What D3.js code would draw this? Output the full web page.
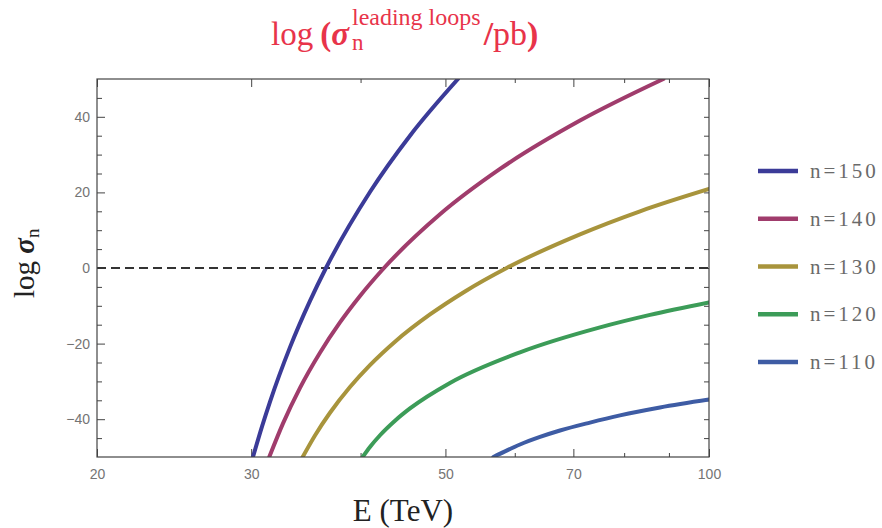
<!DOCTYPE html>
<html>
<head>
<meta charset="utf-8">
<script src="https://cdn.jsdelivr.net/npm/d3@7"></script>
<style>
  html, body { margin: 0; padding: 0; background: #fff; }
  svg { display: block; }
  .tick text { font-family: "Liberation Sans", Arial, sans-serif; font-size: 14px; fill: #747474; }
  .tick line { stroke: #444; stroke-width: 1; }
</style>
</head>
<body>
<svg id="chart" width="882" height="528"></svg>
<script>
// Energy (TeV) and log cross-section readings for each loop order n
const seriesNames = ["n=150", "n=140", "n=130", "n=120", "n=110"];
const seriesColors = ["#3b3b98", "#a03c6c", "#a8943c", "#3c9c58", "#3e5ca4"];

const energy150 = [30.14, 30.87, 31.52, 33.22, 35.02, 36.52, 41.00, 45.55, 51.68];
const logSigma150 = [-50, -41.9, -35.4, -21.0, -8.7, 0, 20.1, 35.0, 50];

const energy140 = [31.46, 32.62, 34.11, 35.95, 37.89, 39.94, 42.54, 49.29, 57.72, 71.23, 88.7];
const logSigma140 = [-50, -41.1, -31.7, -22.4, -14.4, -7.4, 0, 14.2, 26.2, 39.0, 50];

const energy130 = [34.35, 35.48, 36.91, 38.90, 41.00, 43.79, 48.01, 52.64, 58.74, 71.23, 83.41, 100];
const logSigma130 = [-50, -44.3, -38.3, -31.5, -25.7, -19.5, -12.3, -6.2, 0, 8.9, 15.0, 20.9];

const energy120 = [40.22, 41.00, 42.10, 43.79, 45.55, 50.60, 60.83, 75.08, 85.63, 100];
const logSigma120 = [-50, -47.35, -44.25, -40.4, -37.15, -30.4, -22.3, -15.7, -12.4, -9.1];

const energy110 = [56.71, 58.48, 60.83, 64.12, 67.58, 73.13, 79.13, 87.91, 100];
const logSigma110 = [-50, -48.5, -46.7, -44.7, -43.0, -40.9, -39.0, -36.9, -34.8];

const xMajorTicks = [20, 30, 50, 70, 100];
const xMinorTicks = [40, 60, 80, 90];
const yMajorTicks = [-40, -20, 0, 20, 40];
const yMinorTicks = [-45, -35, -30, -25, -15, -10, -5, 5, 10, 15, 25, 30, 35, 45];

const series = [
  { name: seriesNames[0], color: seriesColors[0], e: energy150, v: logSigma150 },
  { name: seriesNames[1], color: seriesColors[1], e: energy140, v: logSigma140 },
  { name: seriesNames[2], color: seriesColors[2], e: energy130, v: logSigma130 },
  { name: seriesNames[3], color: seriesColors[3], e: energy120, v: logSigma120 },
  { name: seriesNames[4], color: seriesColors[4], e: energy110, v: logSigma110 }
];

const svg = d3.select("#chart");
const plot = { left: 97, right: 709, top: 79, bottom: 457 };

const x = d3.scaleLog().domain([20, 100]).range([plot.left, plot.right]);
const y = d3.scaleLinear().domain([-50, 50]).range([plot.bottom, plot.top]);

svg.append("defs").append("clipPath").attr("id", "plotClip")
  .append("rect")
  .attr("x", plot.left).attr("y", plot.top)
  .attr("width", plot.right - plot.left).attr("height", plot.bottom - plot.top);

// Frame ticks (all pointing inward)
function stripDomain(g) { g.select(".domain").remove(); }

svg.append("g").attr("transform", `translate(0,${plot.bottom})`)
  .call(d3.axisBottom(x).tickValues(xMajorTicks).tickSize(-8).tickPadding(12).tickFormat(d3.format("d")))
  .call(stripDomain);
svg.append("g").attr("transform", `translate(0,${plot.bottom})`)
  .call(d3.axisBottom(x).tickValues(xMinorTicks).tickSize(-4).tickFormat(""))
  .call(stripDomain);
svg.append("g").attr("transform", `translate(0,${plot.top})`)
  .call(d3.axisTop(x).tickValues(xMajorTicks).tickSize(-8).tickFormat(""))
  .call(stripDomain);
svg.append("g").attr("transform", `translate(0,${plot.top})`)
  .call(d3.axisTop(x).tickValues(xMinorTicks).tickSize(-4).tickFormat(""))
  .call(stripDomain);

svg.append("g").attr("transform", `translate(${plot.left},0)`)
  .call(d3.axisLeft(y).tickValues(yMajorTicks).tickSize(-8).tickPadding(7))
  .call(stripDomain);
svg.append("g").attr("transform", `translate(${plot.left},0)`)
  .call(d3.axisLeft(y).tickValues(yMinorTicks).tickSize(-5).tickFormat(""))
  .call(stripDomain);
svg.append("g").attr("transform", `translate(${plot.right},0)`)
  .call(d3.axisRight(y).tickValues(yMajorTicks.concat(yMinorTicks)).tickSize(-5).tickFormat(""))
  .call(stripDomain);

// Reference line at log sigma = 0
svg.append("line")
  .attr("x1", plot.left).attr("x2", plot.right)
  .attr("y1", y(0)).attr("y2", y(0))
  .attr("stroke", "#333").attr("stroke-width", 2)
  .attr("stroke-dasharray", "9,5");

// Curves
const line = d3.line()
  .x(d => x(d[0]))
  .y(d => y(d[1]))
  .curve(d3.curveMonotoneX);

svg.append("g").attr("clip-path", "url(#plotClip)")
  .selectAll("path")
  .data(series)
  .join("path")
  .attr("d", s => line(s.e.map((e, i) => [e, s.v[i]])))
  .attr("fill", "none")
  .attr("stroke", s => s.color)
  .attr("stroke-width", 4)
  .attr("stroke-linecap", "round");

// Frame
svg.append("rect")
  .attr("x", plot.left).attr("y", plot.top)
  .attr("width", plot.right - plot.left).attr("height", plot.bottom - plot.top)
  .attr("fill", "none").attr("stroke", "#444").attr("stroke-width", 1.2);

// Legend
const legend = svg.append("g");
const legendY = d3.scalePoint().domain(seriesNames).range([171, 362]);
series.forEach(s => {
  const ly = legendY(s.name);
  legend.append("line")
    .attr("x1", 758).attr("x2", 798).attr("y1", ly).attr("y2", ly)
    .attr("stroke", s.color).attr("stroke-width", 4.5);
  legend.append("text")
    .attr("x", 810).attr("y", ly + 7)
    .attr("font-family", "Liberation Serif, serif")
    .attr("font-size", 21)
    .attr("letter-spacing", 3)
    .attr("fill", "#6a6a6a")
    .text(s.name);
});

// Title: log (σ_n^{leading loops}/pb)
const red = "#e8344a";
const serif = "Liberation Serif, Times New Roman, serif";
let cx = 271;
const base = 45;
function put(txt, opts) {
  const t = svg.append("text")
    .attr("x", opts.x).attr("y", opts.y)
    .attr("font-family", serif)
    .attr("font-size", opts.size)
    .attr("font-weight", opts.bold ? "bold" : "normal")
    .attr("font-style", opts.italic ? "italic" : "normal")
    .attr("fill", opts.fill || red)
    .text(txt);
  return t.node().getComputedTextLength();
}
cx += put("log", { x: cx, y: base, size: 33 });
cx += 7;
cx += put("(", { x: cx, y: base, size: 33, bold: true });
cx += put("σ", { x: cx, y: base, size: 33, bold: true, italic: true });
cx += 3;
const supW = put("leading loops", { x: cx, y: 25, size: 24 });
put("n", { x: cx, y: 50, size: 23 });
cx += supW + 3;
cx += put("/", { x: cx, y: base, size: 34, bold: true });
cx += put("pb", { x: cx, y: base, size: 34 });
put(")", { x: cx, y: base, size: 34, bold: true });

// Axis titles
svg.append("text")
  .attr("x", 403).attr("y", 521)
  .attr("text-anchor", "middle")
  .attr("font-family", serif)
  .attr("font-size", 31)
  .attr("fill", "#222")
  .text("E (TeV)");

const yTitle = svg.append("text")
  .attr("transform", "translate(34,298) rotate(-90)")
  .attr("font-family", serif)
  .attr("font-size", 29)
  .attr("fill", "#222");
yTitle.append("tspan").text("log ");
yTitle.append("tspan").attr("font-weight", "bold").attr("font-style", "italic").text("σ");
yTitle.append("tspan").attr("font-size", 19).attr("dy", 5).text("n");
</script>
</body>
</html>
